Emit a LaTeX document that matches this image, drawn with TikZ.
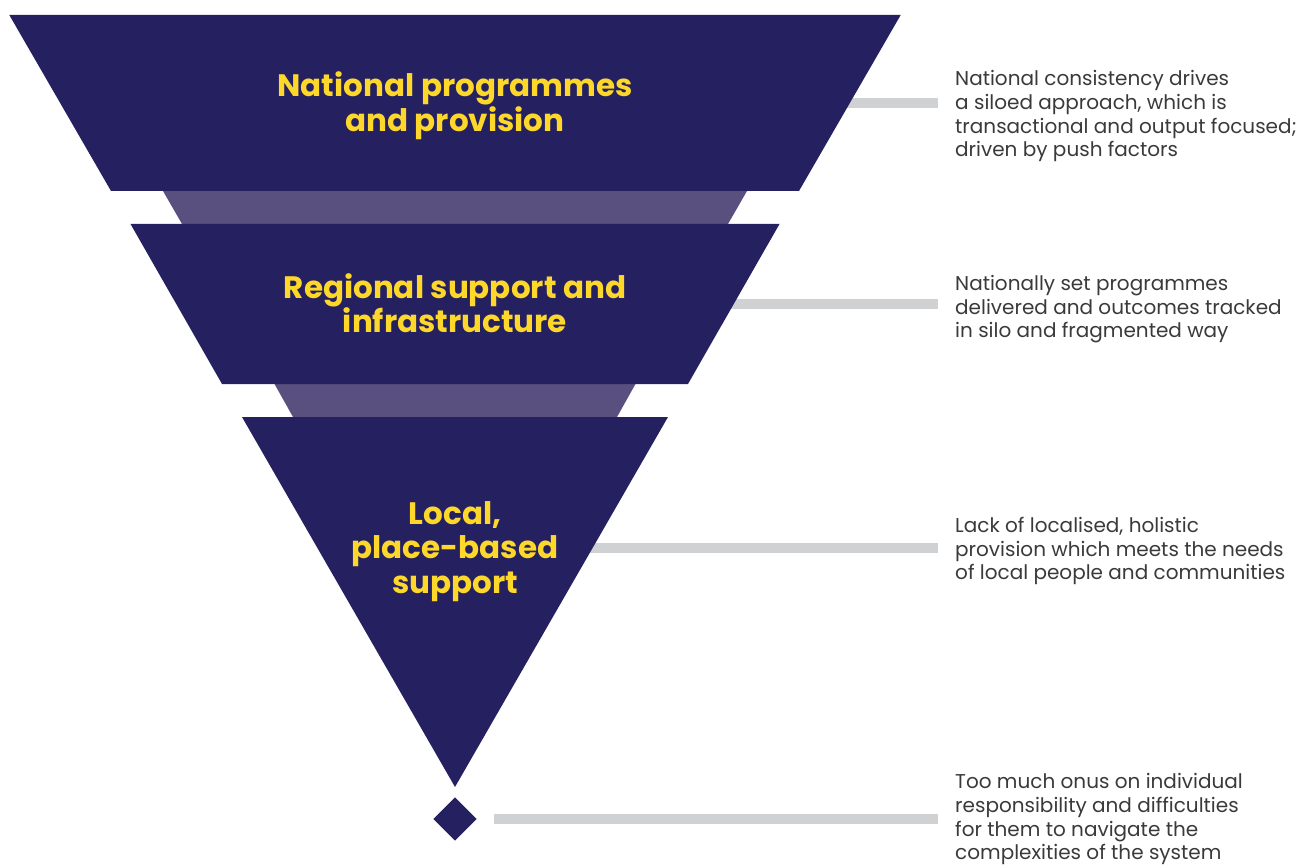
\documentclass[tikz,border=0pt]{standalone}
\usepackage{fontspec}
\setmainfont{Poppins}
\definecolor{navy}{RGB}{37,32,96}
\definecolor{bandc}{RGB}{89,80,127}
\definecolor{ylw}{RGB}{253,216,42}
\definecolor{barc}{RGB}{208,209,211}
\definecolor{txt}{RGB}{58,58,58}
\tikzset{
  navyfill/.style={fill=navy},
  bandfill/.style={fill=bandc},
  graybar/.style={draw=barc, line width=10.6pt, line cap=butt},
  title/.style={text=ylw, align=center, inner sep=0pt, anchor=base, font=\fontsize{31}{34.7}\selectfont\bfseries},
  note/.style={text=txt, align=left, inner sep=0pt, anchor=base west, font=\fontsize{20}{23.7}\selectfont},
}
\begin{document}
\begin{tikzpicture}[x=1pt,y=-1pt]
\useasboundingbox (0,0) rectangle (1298,866);
% connector bars (behind shapes)
\coordinate (b1s) at (800,103);   \coordinate (b1e) at (937.5,103);
\coordinate (b2s) at (700,304);   \coordinate (b2e) at (937.5,304);
\coordinate (b3s) at (560,548);   \coordinate (b3e) at (937.5,548);
\coordinate (b4s) at (493.6,819); \coordinate (b4e) at (937.5,819);
\draw[graybar] (b1s) -- (b1e);
\draw[graybar] (b2s) -- (b2e);
\draw[graybar] (b3s) -- (b3e);
\draw[graybar] (b4s) -- (b4e);
% lighter connecting bands
\fill[bandfill] (163,191) -- (747,191) -- (728,224) -- (182,224) -- cycle;
\fill[bandfill] (274.5,384) -- (635.5,384) -- (617,417) -- (293,417) -- cycle;
% main funnel shapes
\fill[navyfill] (9.3,15) -- (900.7,15) -- (799,191) -- (111,191) -- cycle;
\fill[navyfill] (130.5,224) -- (779.5,224) -- (688,384) -- (222,384) -- cycle;
\fill[navyfill] (242,417) -- (668,417) -- (455,787) -- cycle;
\fill[navyfill] (455,797.3) -- (476.7,819) -- (455,840.7) -- (433.3,819) -- cycle;
% titles (anchor = baseline of last line)
\node[title] (t1) at (455,131.7) {National programmes\\and provision};
\node[title] (t2) at (455,333) {Regional support and\\infrastructure};
\node[title] (t3) at (455,593.5) {Local,\\place-based\\support};
% notes (anchor = baseline of last line)
\node[note] (n1) at (955,156.8) {National consistency drives\\a siloed approach, which is\\transactional and output focused;\\driven by push factors};
\node[note] (n2) at (955,337.9) {Nationally set programmes\\delivered and outcomes tracked\\in silo and fragmented way};
\node[note] (n3) at (955,579.7) {Lack of localised, holistic\\provision which meets the needs\\of local people and communities};
\node[note] (n4) at (955,859.8) {Too much onus on individual\\responsibility and difficulties\\for them to navigate the\\complexities of the system};
\end{tikzpicture}
\end{document}
